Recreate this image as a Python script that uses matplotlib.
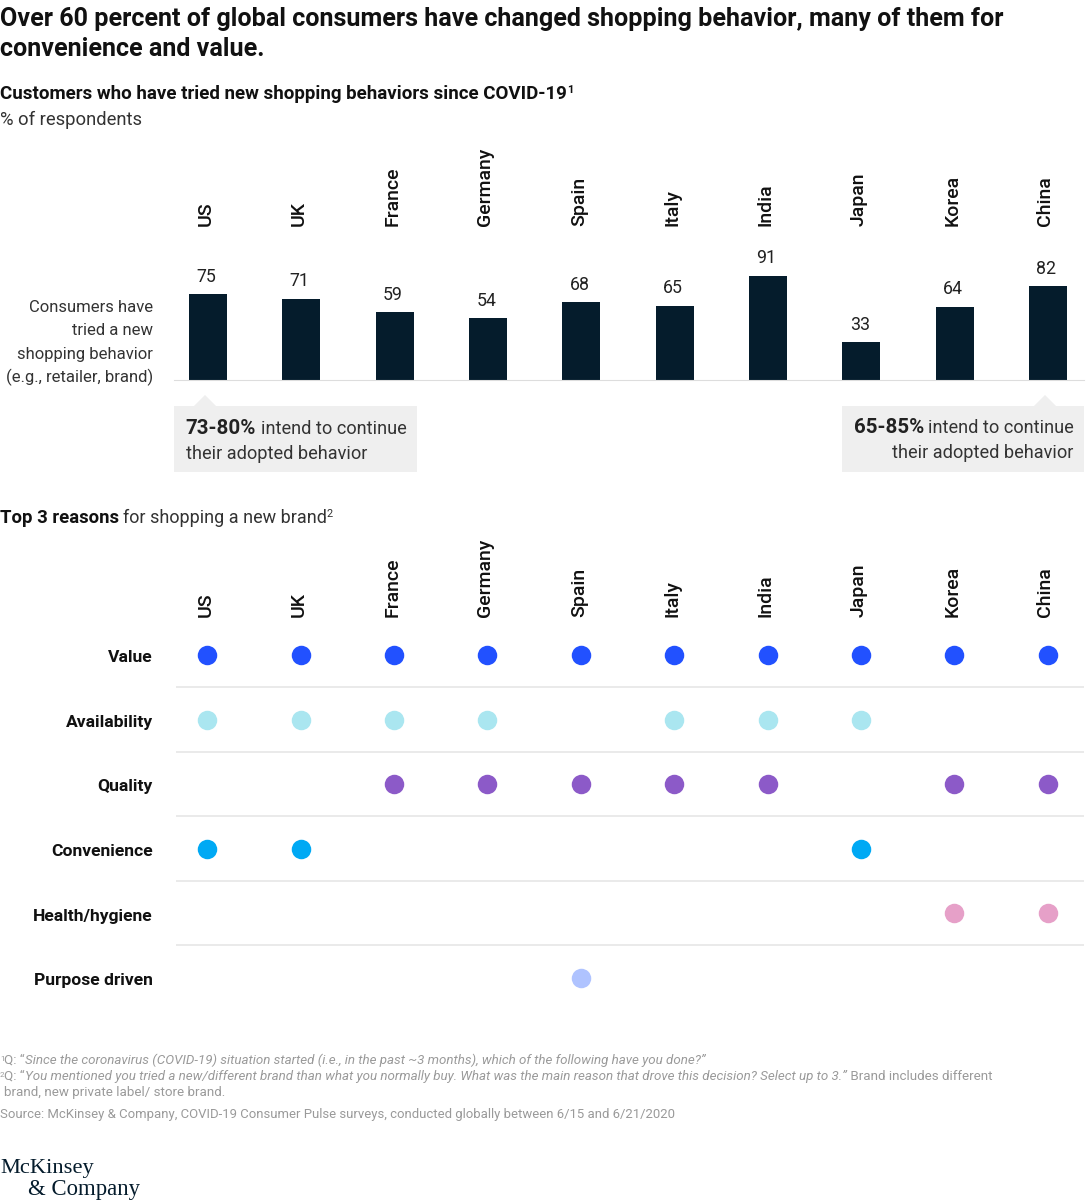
import matplotlib
matplotlib.use("Agg")
import matplotlib.pyplot as plt
from matplotlib.patches import Polygon, Rectangle

W, H = 1091, 1200
FONT = "Roboto"
plt.rcParams["font.family"] = [FONT, "DejaVu Sans"]

countries = ["US", "UK", "France", "Germany", "Spain", "Italy", "India", "Japan", "Korea", "China"]
tried = [75, 71, 59, 54, 68, 65, 91, 33, 64, 82]

reasons = ["Value", "Availability", "Quality", "Convenience", "Health/hygiene", "Purpose driven"]
reason_colors = ["#2251ff", "#aae6f0", "#8c5ac8", "#00a9f4", "#e6a0c8", "#afc3ff"]
value_in = ["US", "UK", "France", "Germany", "Spain", "Italy", "India", "Japan", "Korea", "China"]
availability_in = ["US", "UK", "France", "Germany", "Italy", "India", "Japan"]
quality_in = ["France", "Germany", "Spain", "Italy", "India", "Korea", "China"]
convenience_in = ["US", "UK", "Japan"]
health_in = ["Korea", "China"]
purpose_in = ["Spain"]
reason_members = [value_in, availability_in, quality_in, convenience_in, health_in, purpose_in]

DARK = "#051c2c"
TEXT = "#222222"
GREY = "#9a9a9a"

fig = plt.figure(figsize=(W / 100, H / 100), dpi=100, facecolor="white")


def px_axes(x0, y0, x1, y1):
    # axes box given in image pixels (y from the top)
    return fig.add_axes([x0 / W, 1 - y1 / H, (x1 - x0) / W, (y1 - y0) / H])


# overlay for the free text, in image pixels
bg = px_axes(0, 0, W, H)
bg.set_xlim(0, W)
bg.set_ylim(H, 0)
bg.axis("off")
renderer = fig.canvas.get_renderer()


def text_width(txt, **kw):
    # measured between two marks so that edge spaces count
    a = bg.text(0, 0, "|" + txt + "|", **kw)
    b = bg.text(0, 0, "||", **kw)
    w = a.get_window_extent(renderer).width - b.get_window_extent(renderer).width
    a.remove()
    b.remove()
    return w


def runs(x, y, parts, size, color=TEXT):
    # parts = (text, weight, style, raise) pieces written one after the other
    cur = x
    for txt, weight, style, up in parts:
        s = size * 0.6 if up else size
        bg.text(cur, y - up, txt, fontsize=s, fontweight=weight, fontstyle=style,
                color=color, ha="left", va="baseline")
        cur += text_width(txt, fontsize=s, fontweight=weight, fontstyle=style)


R = ("normal", "normal", 0)
B = ("bold", "normal", 0)
I = ("normal", "italic", 0)

# headline and sub headings
runs(0, 26, [("Over 60 percent of global consumers have changed shopping behavior, many of them for", *B)], 18.1, color="#111111")
runs(0, 56, [("convenience and value.", *B)], 18.1, color="#111111")
runs(0, 99, [("Customers who have tried new shopping behaviors since COVID-19", *B),
             ("1", "bold", "normal", 6)], 13.5, color="#111111")
runs(0, 125, [("% of respondents", *R)], 13.2, color="#333333")

# bars
BAR_X0, BAR_X1 = 174, 1084
STEP = 93.33
ax = px_axes(BAR_X0, 380 - 114.5, BAR_X1, 380)
xs = range(len(countries))
ax.bar(xs, tried, width=0.405, color=DARK)
ax.set_xlim((BAR_X0 - 208) / STEP, (BAR_X1 - 208) / STEP)
ax.set_ylim(0, 100)
ax.patch.set_alpha(0)
for side in ["top", "right", "left"]:
    ax.spines[side].set_visible(False)
ax.spines["bottom"].set_color("#dddddd")
ax.set_xticks([])
ax.set_yticks([])
for i, v in enumerate(tried):
    ax.annotate(str(v), (i, v), xytext=(-1.2, 6), textcoords="offset points", ha="center",
                va="bottom", fontsize=12.8, color=TEXT, annotation_clip=False)
for i, c in enumerate(countries):
    bg.text(208 + i * STEP - 2.5, 226, c, rotation=90, ha="center", va="bottom",
            fontsize=14, fontweight="medium", color="#111111")

for j, line in enumerate(["Consumers have", "tried a new", "shopping behavior", "(e.g., retailer, brand)"]):
    bg.text(153, 312 + j * 23.3, line, ha="right", va="baseline", fontsize=12.0, color="#333333")

# callouts
bg.add_patch(Rectangle((174, 406), 243, 66, color="#efefef", lw=0))
bg.add_patch(Polygon([[194, 406], [205, 395], [216, 406]], color="#efefef", lw=0))
bg.add_patch(Rectangle((842, 406), 242, 66, color="#efefef", lw=0))
bg.add_patch(Polygon([[1034, 406], [1045, 395], [1056, 406]], color="#efefef", lw=0))
runs(185, 434, [("73-80%", *B)], 14.8, color=TEXT)
runs(261, 434, [("intend to continue", *R)], 13.1, color="#333333")
runs(186, 459, [("their adopted behavior", *R)], 13.1, color="#333333")
runs(854, 433, [("65-85%", *B)], 14.8, color=TEXT)
runs(928, 433, [("intend to continue", *R)], 13.1, color="#333333")
bg.text(1073, 458, "their adopted behavior", ha="right", va="baseline", fontsize=13.1, color="#333333")

# dot matrix
runs(0, 523, [("Top 3 reasons", *B)], 13.3, color="#111111")
runs(123, 523, [("for shopping a new brand", *R), ("2", "normal", "normal", 6)], 13.0, color="#333333")
for i, c in enumerate(countries):
    bg.text(208 + i * STEP - 2.5, 617, c, rotation=90, ha="center", va="bottom",
            fontsize=14, fontweight="medium", color="#111111")

ROW0, ROW_STEP = 655, 64.5
DOT0, DOT_STEP = 207.2, 93.4
ax2 = px_axes(BAR_X0 + 2, ROW0 - ROW_STEP / 2, BAR_X1, ROW0 + 5.5 * ROW_STEP)
ax2.set_xlim((BAR_X0 + 2 - DOT0) / DOT_STEP, (BAR_X1 - DOT0) / DOT_STEP)
ax2.set_ylim(5.5, -0.5)
ax2.axis("off")
ax2.patch.set_alpha(0)
for r, (name, col, members) in enumerate(zip(reasons, reason_colors, reason_members)):
    mx = [countries.index(m) for m in members]
    ax2.scatter(mx, [r] * len(mx), s=(19.5 * 0.72) ** 2, color=col, linewidths=0, zorder=3)
    if r < len(reasons) - 1:
        ax2.axhline(r + 0.5, color="#e4e4e4", lw=1.1)
    bg.text(153, ROW0 + r * ROW_STEP + 7.5, name, ha="right", va="baseline",
            fontsize=12.6, fontweight="bold", color="#111111")

# footnotes
FS = 9.6
runs(0, 1064, [("1", "normal", "normal", 3), ("Q: \u201c", *R),
               ("Since the coronavirus (COVID-19) situation started (i.e., in the past ~3 months), which of the following have you done?\u201d", *I)],
     FS, color=GREY)
runs(0, 1080, [("2", "normal", "normal", 3), ("Q: \u201c", *R),
               ("You mentioned you tried a new/different brand than what you normally buy. What was the main reason that drove this decision? Select up to 3.\u201d", *I),
               (" Brand includes different", *R)], FS, color=GREY)
runs(4, 1096, [("brand, new private label/ store brand.", *R)], FS, color=GREY)
runs(0, 1118, [("Source: McKinsey & Company, COVID-19 Consumer Pulse surveys, conducted globally between 6/15 and 6/21/2020", *R)], 9.48, color=GREY)

# wordmark
bg.text(0, 1173, "McKinsey", family="Liberation Serif", fontsize=16.2, color=DARK, ha="left", va="baseline")
bg.text(28, 1195, "& Company", family="Liberation Serif", fontsize=16.4, color=DARK, ha="left", va="baseline")

fig.savefig("out.png", dpi=100, facecolor="white")
